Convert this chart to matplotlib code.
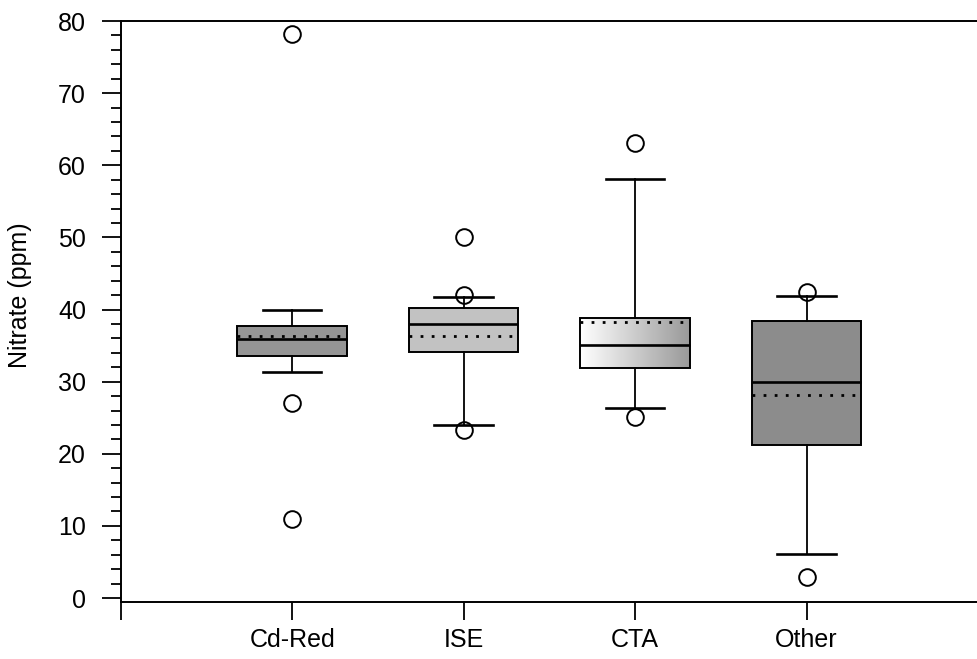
import numpy as np
import matplotlib
matplotlib.use("Agg")
import matplotlib.pyplot as plt
import matplotlib.ticker as tick
from matplotlib import rcParams

rcParams['font.family'] = 'sans-serif'
rcParams['font.sans-serif'] = ['Liberation Sans', 'DejaVu Sans']

#####################################

methods = ["Cd-Red", "ISE", "CTA", "Other"]
whislo = [31.3, 24.0, 26.3, 6.1]
q1 = [33.6, 34.1, 31.9, 21.2]
medians = [35.9, 38.0, 35.1, 29.9]
means = [36.3, 36.3, 38.3, 28.1]
q3 = [37.7, 40.2, 38.8, 38.4]
whishi = [39.9, 41.7, 58.1, 41.9]
outliers = [[78.2, 27.0, 11.0], [50.0, 42.0, 23.3], [63.1, 25.1], [42.4, 2.9]]

box_colors = ["#959595", "#c2c2c2", None, "#8c8c8c"]

####################################

stats = []
for i, name in enumerate(methods):
    stats.append(dict(label=name, whislo=whislo[i], q1=q1[i], med=medians[i],
                      mean=means[i], q3=q3[i], whishi=whishi[i], fliers=outliers[i]))

fig = plt.figure(figsize=(9.78, 6.59), dpi=100)
ax = fig.add_axes([0.1234, 0.0865, 0.8766, 0.8816])

bp = ax.bxp(stats, positions=[1, 2, 3, 4], widths=0.64, capwidths=0.34,
            patch_artist=True, showmeans=True, meanline=True,
            boxprops=dict(edgecolor="black", linewidth=1.4),
            medianprops=dict(color="black", linewidth=1.9),
            meanprops=dict(color="black", linestyle=(0, (1, 3)), linewidth=2.0),
            whiskerprops=dict(color="black", linewidth=1.3),
            capprops=dict(color="black", linewidth=1.9),
            flierprops=dict(marker="o", markersize=12, markerfacecolor="none",
                            markeredgecolor="black", markeredgewidth=1.4))

for patch, c in zip(bp["boxes"], box_colors):
    if c is not None:
        patch.set_facecolor(c)
    else:
        # CTA box: light gradient, white on the left to grey on the right
        patch.set_facecolor("none")
        grad = np.linspace(1.0, 0.6, 256).reshape(1, -1)
        im = ax.imshow(grad, cmap="gray", vmin=0, vmax=1, aspect="auto",
                       extent=[3 - 0.32, 3 + 0.32, q1[2], q3[2]], zorder=1.5)
        im.set_clip_path(patch)

ax.set_xlim(0, 5)
ax.set_ylim(-0.55, 80)

ax.set_xticks([0, 1, 2, 3, 4])
ax.set_xticklabels([""] + methods)
ax.set_yticks(np.arange(0, 81, 10))
ax.yaxis.set_minor_locator(tick.MultipleLocator(2))

ax.tick_params(axis="x", direction="out", length=13, width=1.3, labelsize=18, pad=6)
ax.tick_params(axis="y", which="major", direction="out", length=14, width=1.3,
               labelsize=18, pad=11)
ax.tick_params(axis="y", which="minor", direction="out", length=7, width=1.3)

ax.spines["right"].set_visible(False)
for s in ["left", "bottom", "top"]:
    ax.spines[s].set_linewidth(1.4)

fig.text(20 / 978, 1 - 295 / 659, "Nitrate (ppm)", rotation=90, fontsize=18,
         ha="center", va="center")

plt.savefig("out.png", dpi=100)
